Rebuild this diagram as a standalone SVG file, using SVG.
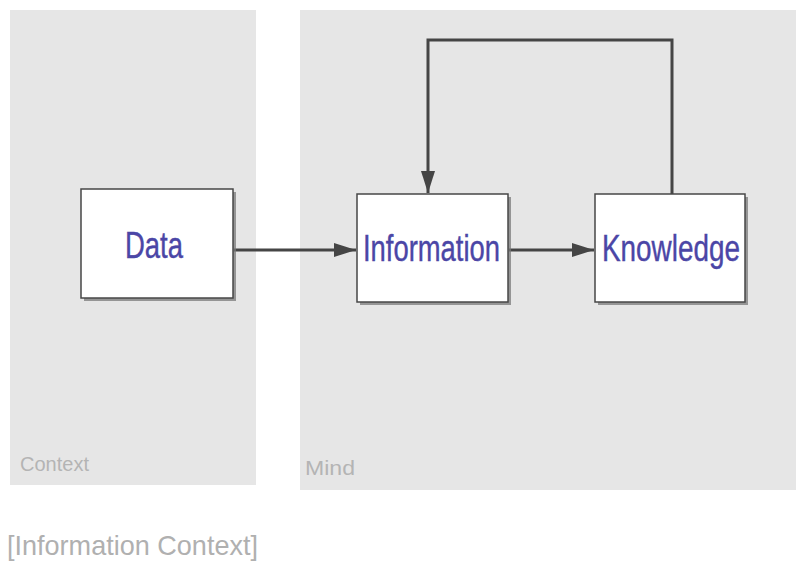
<svg xmlns="http://www.w3.org/2000/svg" width="796" height="562" viewBox="0 0 796 562">
  <defs>
    <style>
      .panel { fill: #e6e6e6; }
      .shadow { fill: #7a7a7a; opacity: 0.75; }
      .box { fill: #ffffff; stroke: #474747; stroke-width: 1.5; }
      .label { font-family: "Liberation Sans", Arial, sans-serif; font-size: 36px; fill: #4b46a6; stroke: #4b46a6; stroke-width: 0.4; }
      .zone { font-family: "Liberation Sans", Arial, sans-serif; font-size: 20px; fill: #b4b4b4; }
      .caption { font-family: "Liberation Sans", Arial, sans-serif; font-size: 28px; fill: #b0b0b0; }
      .link { fill: none; stroke: #454545; stroke-width: 3; }
    </style>
    <marker id="arrow" viewBox="0 0 22 14" refX="22" refY="7" markerWidth="22" markerHeight="14" markerUnits="userSpaceOnUse" orient="auto">
      <path d="M0,0 L22,7 L0,14 Z" fill="#454545"/>
    </marker>
  </defs>

  <!-- background zones -->
  <g id="context-zone">
    <rect class="panel" x="10" y="10" width="246" height="475"/>
    <text class="zone" x="20" y="471" textLength="69" lengthAdjust="spacingAndGlyphs">Context</text>
  </g>
  <g id="mind-zone">
    <rect class="panel" x="300" y="10" width="496" height="480"/>
    <text class="zone" x="305" y="475" textLength="50" lengthAdjust="spacingAndGlyphs">Mind</text>
  </g>

  <!-- connectors -->
  <g id="connectors">
    <line class="link" x1="234" y1="250" x2="356" y2="250" marker-end="url(#arrow)"/>
    <line class="link" x1="509" y1="250" x2="594" y2="250" marker-end="url(#arrow)"/>
    <polyline class="link" points="672,194 672,40 428,40 428,193" marker-end="url(#arrow)"/>
  </g>

  <!-- nodes -->
  <g id="data">
    <rect class="shadow" x="84" y="192" width="152" height="109"/>
    <rect class="box" x="81" y="189" width="152" height="109"/>
    <text class="label" x="125" y="258" textLength="58" lengthAdjust="spacingAndGlyphs">Data</text>
  </g>
  <g id="information">
    <rect class="shadow" x="360" y="197" width="151" height="108"/>
    <rect class="box" x="357" y="194" width="151" height="108"/>
    <text class="label" x="363" y="261" textLength="137" lengthAdjust="spacingAndGlyphs">Information</text>
  </g>
  <g id="knowledge">
    <rect class="shadow" x="598" y="197" width="150" height="108"/>
    <rect class="box" x="595" y="194" width="150" height="108"/>
    <text class="label" x="602" y="261" textLength="138" lengthAdjust="spacingAndGlyphs">Knowledge</text>
  </g>

  <text class="caption" x="7" y="555" textLength="251" lengthAdjust="spacingAndGlyphs">[Information Context]</text>
</svg>
